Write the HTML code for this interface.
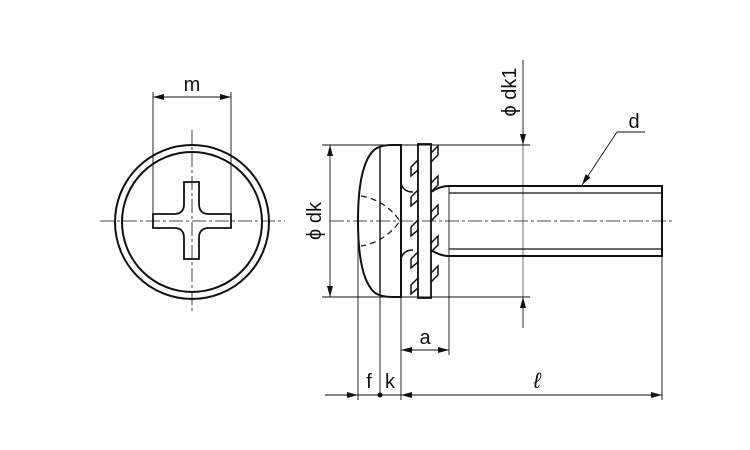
<!DOCTYPE html>
<html><head><style>
html,body{margin:0;padding:0;background:#fff;}
svg{display:block;}
text{font-family:"Liberation Sans",sans-serif;fill:#111;}
</style></head><body>
<svg width="750" height="450" viewBox="0 0 750 450" xmlns="http://www.w3.org/2000/svg">
<defs>
<marker id="ar" markerWidth="12" markerHeight="8" refX="11" refY="4" orient="auto-start-reverse" markerUnits="userSpaceOnUse">
<path d="M0,1 L11,4 L0,7 Z" fill="#111"/>
</marker>
</defs>
<g stroke="#111" fill="none">
<!-- front view -->
<circle cx="192" cy="222" r="77" stroke-width="2"/>
<circle cx="192" cy="222" r="70" stroke-width="2"/>
<path d="M184,182 H199 V204 Q199,214 209,214 H231 V228 H209 Q199,228 199,238 V259 H184 V238 Q184,228 174,228 H153 V214 H174 Q184,214 184,204 Z" stroke-width="1.8"/>
<line x1="100" y1="221" x2="285" y2="221" stroke-width="0.8" stroke-dasharray="14,3,3,3"/>
<line x1="192" y1="130" x2="192" y2="312" stroke-width="0.8" stroke-dasharray="14,3,3,3"/>
<line x1="153" y1="92" x2="153" y2="214" stroke-width="0.9"/>
<line x1="231" y1="92" x2="231" y2="214" stroke-width="0.9"/>
<line x1="153" y1="97" x2="231" y2="97" stroke-width="0.9" marker-start="url(#ar)" marker-end="url(#ar)"/>
<!-- side view head -->
<path d="M401,145 H392 Q380,145 374,150 Q358,165 358,221 Q358,277 374,292 Q380,297 392,297 H401 Z" stroke-width="2"/>
<line x1="380" y1="147" x2="380" y2="295" stroke-width="1.4"/>
<path d="M361,196 Q385,200 400,221 Q385,242 361,246" stroke-width="1.2" stroke-dasharray="6,4"/>
<!-- neck -->
<path d="M401,183 Q403,192 413,192" stroke-width="1.5"/>
<path d="M401,259 Q403,250 413,250" stroke-width="1.5"/>
<!-- flat washer -->
<rect x="418" y="144" width="13" height="154" stroke-width="1.8"/>
<g stroke-width="1.5">
<path d="M411,167 L418,160 M411,167 L411,176 L418,170"/>
<path d="M411,197 L418,190 M411,197 L411,206 L418,200"/>
<path d="M411,227 L418,220 M411,227 L411,236 L418,230"/>
<path d="M411,259 L418,252 M411,259 L411,268 L418,262"/>
<path d="M411,285 L418,278 M411,285 L411,294 L418,288"/>
<path d="M431,153 L438,146 L438,155 L431,162"/>
<path d="M431,183 L438,176 L438,185 L431,192"/>
<path d="M431,212 L438,205 L438,214 L431,221"/>
<path d="M431,243 L438,236 L438,245 L431,252"/>
<path d="M431,273 L438,266 L438,275 L431,282"/>
</g>
<!-- shank -->
<path d="M431,192 Q440,186 449,186 H662 V256 H449 Q440,256 431,250" stroke-width="2"/>
<line x1="449" y1="193" x2="662" y2="193" stroke-width="1.2"/>
<line x1="449" y1="249" x2="662" y2="249" stroke-width="1.2"/>
<line x1="449" y1="186" x2="449" y2="355" stroke-width="0.9"/>
<line x1="330" y1="221" x2="675" y2="221" stroke-width="0.8" stroke-dasharray="14,3,3,3"/>
<!-- extension lines -->
<line x1="322" y1="145" x2="530" y2="145" stroke-width="0.9"/>
<line x1="322" y1="297" x2="530" y2="297" stroke-width="0.9"/>
<line x1="330" y1="145" x2="330" y2="297" stroke-width="0.9" marker-start="url(#ar)" marker-end="url(#ar)"/>
<line x1="523" y1="60" x2="523" y2="145" stroke-width="0.9" marker-end="url(#ar)"/>
<line x1="523" y1="328" x2="523" y2="297" stroke-width="0.9" marker-end="url(#ar)"/>
<line x1="523" y1="145" x2="523" y2="297" stroke-width="0.6"/>
<line x1="358" y1="221" x2="358" y2="400" stroke-width="0.9"/>
<line x1="380" y1="297" x2="380" y2="395" stroke-width="0.9"/>
<line x1="401" y1="297" x2="401" y2="400" stroke-width="0.9"/>
<line x1="662" y1="256" x2="662" y2="400" stroke-width="0.9"/>
<line x1="401" y1="350" x2="449" y2="350" stroke-width="0.9" marker-start="url(#ar)" marker-end="url(#ar)"/>
<line x1="325" y1="395" x2="358" y2="395" stroke-width="0.9" marker-end="url(#ar)"/>
<line x1="358" y1="395" x2="401" y2="395" stroke-width="0.9"/>
<line x1="401" y1="395" x2="662" y2="395" stroke-width="0.9" marker-start="url(#ar)" marker-end="url(#ar)"/>
<!-- d leader -->
<line x1="617" y1="132" x2="582" y2="185" stroke-width="0.9" marker-end="url(#ar)"/>
<line x1="617" y1="132" x2="645" y2="132" stroke-width="0.9"/>
</g>
<circle cx="380" cy="395" r="2.5" fill="#111"/>
<text x="192" y="91" font-size="20" text-anchor="middle">m</text>
<text x="425" y="344" font-size="20" text-anchor="middle">a</text>
<text x="369" y="388" font-size="20" text-anchor="middle">f</text>
<text x="390" y="388" font-size="20" text-anchor="middle">k</text>
<text x="537" y="388" font-size="22" text-anchor="middle" font-style="italic">ℓ</text>
<text x="634" y="128" font-size="20" text-anchor="middle">d</text>
<text transform="translate(321,221) rotate(-90)" font-size="20" text-anchor="middle">ϕ dk</text>
<text transform="translate(516,92) rotate(-90)" font-size="20" text-anchor="middle">ϕ dk1</text>
</svg>
</body></html>
